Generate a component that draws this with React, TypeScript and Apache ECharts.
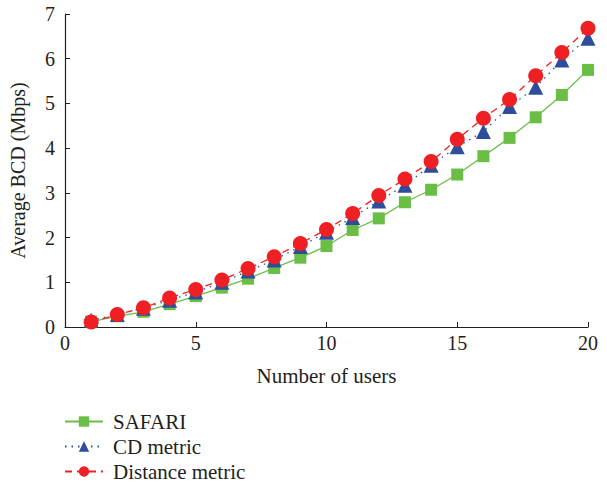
import React, { useEffect, useRef } from "react";
import * as echarts from "echarts";

const users = [1, 2, 3, 4, 5, 6, 7, 8, 9, 10, 11, 12, 13, 14, 15, 16, 17, 18, 19, 20];
const safari = [0.12, 0.24, 0.34, 0.51, 0.69, 0.88, 1.08, 1.32, 1.55, 1.81, 2.17, 2.43, 2.79, 3.07, 3.41, 3.82, 4.23, 4.69, 5.19, 5.75];
const cdMetric = [0.15, 0.28, 0.42, 0.6, 0.78, 1.0, 1.25, 1.5, 1.8, 2.12, 2.45, 2.82, 3.17, 3.62, 4.03, 4.37, 4.93, 5.36, 5.97, 6.46];
const distanceMetric = [0.11, 0.28, 0.43, 0.65, 0.84, 1.05, 1.31, 1.57, 1.87, 2.18, 2.54, 2.94, 3.31, 3.7, 4.2, 4.67, 5.09, 5.62, 6.14, 6.68];

const FONT = "'Liberation Serif', 'DejaVu Serif', serif";

export default function App() {
  const ref = useRef<HTMLDivElement>(null);
  useEffect(() => {
    if (!ref.current) return;
    const chart = echarts.init(ref.current, null, { renderer: "svg" });
    const pairs = (arr: number[]) => users.map((u, i) => [u, arr[i]]);
    chart.setOption({
      animation: false,
      backgroundColor: "#ffffff",
      textStyle: { fontFamily: FONT },
      grid: { left: 64, right: 19, top: 14, bottom: 165 },
      legend: {
        orient: "vertical",
        left: 64,
        top: 411,
        height: 81,
        padding: 0,
        itemWidth: 38,
        itemHeight: 13,
        itemGap: 4,
        textStyle: { fontFamily: FONT, fontSize: 21, color: "#231f20", padding: [0, 0, 0, 5] },
        data: ["SAFARI", "CD metric", "Distance metric"],
      },
      xAxis: {
        type: "value",
        min: 0,
        max: 20,
        interval: 5,
        name: "Number of users",
        nameLocation: "middle",
        nameGap: 38,
        nameTextStyle: { fontFamily: FONT, fontSize: 21, color: "#231f20" },
        axisLine: { lineStyle: { color: "#231f20", width: 1.2 } },
        axisTick: { inside: true, length: 5, lineStyle: { color: "#231f20" } },
        axisLabel: { fontFamily: FONT, fontSize: 20, color: "#231f20", margin: 6 },
        splitLine: { show: false },
      },
      yAxis: {
        type: "value",
        min: 0,
        max: 7,
        interval: 1,
        name: "Average BCD (Mbps)",
        nameLocation: "middle",
        nameGap: 37,
        nameTextStyle: { fontFamily: FONT, fontSize: 20, color: "#231f20" },
        axisLine: { show: true, lineStyle: { color: "#231f20", width: 1.2 } },
        axisTick: { show: true, inside: true, length: 5, lineStyle: { color: "#231f20" } },
        axisLabel: { fontFamily: FONT, fontSize: 20, color: "#231f20", margin: 10 },
        splitLine: { show: false },
      },
      series: [
        {
          name: "SAFARI",
          type: "line",
          data: pairs(safari),
          symbol: "rect",
          symbolSize: 12,
          color: "#6abd45",
          lineStyle: { color: "#6abd45", width: 1.3, type: "solid" },
          itemStyle: { color: "#6abd45" },
          z: 2,
        },
        {
          name: "CD metric",
          type: "line",
          data: pairs(cdMetric),
          symbol: "triangle",
          symbolSize: 15,
          color: "#2e4d9b",
          lineStyle: { color: "#2e4d9b", width: 1.3, type: [1.5, 5] },
          itemStyle: { color: "#2e4d9b" },
          z: 3,
        },
        {
          name: "Distance metric",
          type: "line",
          data: pairs(distanceMetric),
          symbol: "circle",
          symbolSize: 15,
          color: "#ee2024",
          lineStyle: { color: "#ee2024", width: 1.3, type: [7, 5] },
          itemStyle: { color: "#ee2024" },
          z: 4,
        },
      ],
    });
    return () => chart.dispose();
  }, []);
  return <div ref={ref} style={{ width: 607, height: 492, position: "absolute", left: 0, top: 0 }} />;
}
